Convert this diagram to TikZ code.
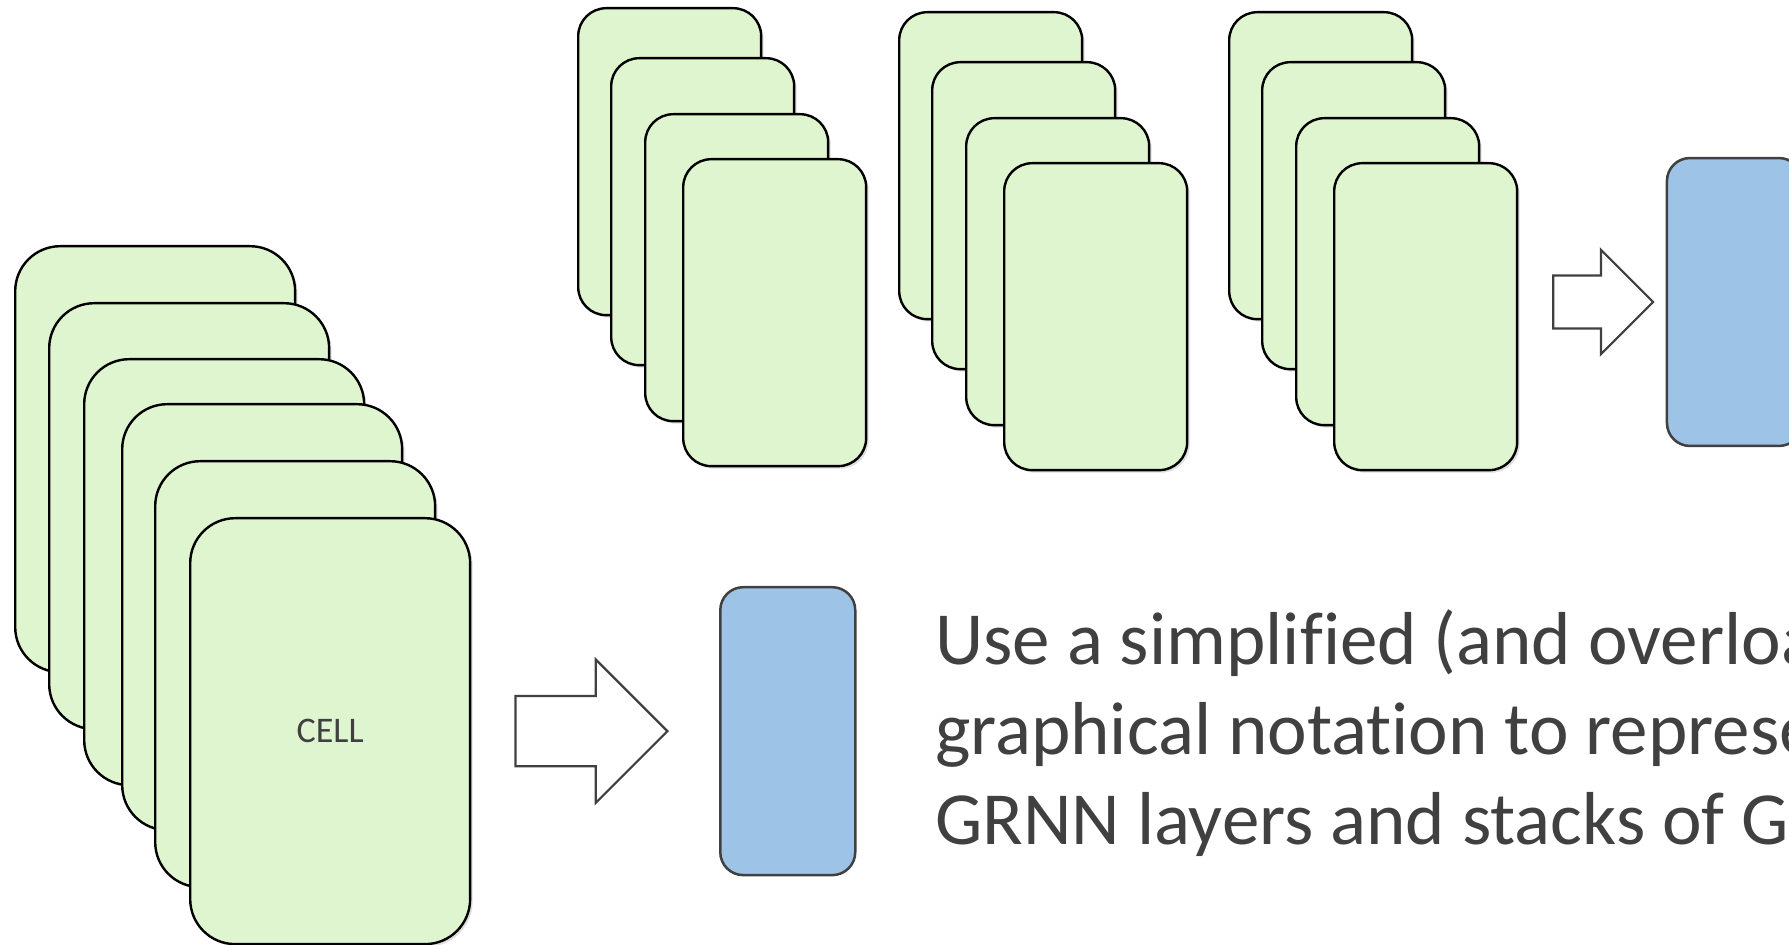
\documentclass[tikz,border=0pt]{standalone}
\usepackage{fontspec}
\setmainfont{Carlito}[Ligatures=NoCommon]
\usetikzlibrary{positioning,shapes.arrows,shadows}
\definecolor{cellGreen}{RGB}{223,245,208}
\definecolor{grnnBlue}{RGB}{157,195,230}
\definecolor{lineGray}{RGB}{64,64,64}

\begin{document}
\begin{tikzpicture}[
  x=0.02cm, y=-0.02cm,
  cellcard/.style={draw=black, fill=cellGreen, line width=0.048cm, rounded corners=0.9cm,
    minimum width=5.6cm, minimum height=8.52cm, anchor=north west, inner sep=0pt,
    drop shadow={shadow xshift=0.05cm, shadow yshift=-0.05cm, opacity=0.25}},
  layercard/.style={cellcard, rounded corners=0.56cm, minimum width=3.66cm, minimum height=6.14cm},
  grnn/.style={draw=lineGray, fill=grnnBlue, line width=0.05cm, rounded corners=0.46cm,
    minimum width=2.7cm, minimum height=5.76cm, inner sep=0pt},
  fatarrow/.style={single arrow, draw=lineGray, fill=white, line width=0.045cm, inner xsep=0pt,
    anchor=tail},
  celltext/.style={font=\fontsize{20.5}{24}\selectfont, text=lineGray},
  note/.style={font=\fontsize{42.7}{51}\selectfont, text=lineGray, align=left, anchor=base west}
]
\useasboundingbox (0,0) rectangle (1789,945);
\clip (0,0) rectangle (1789,945);

% Stack of cells
\foreach \x/\y [count=\i] in {14/245, 48/302, 83/358, 121/403, 154/460, 189/517}
  \node[cellcard] (cell\i) at (\x,\y) {};
\node[celltext] (cellname) at (cell6.center) {CELL};

\node[fatarrow, minimum height=3.04cm, inner ysep=0.68cm, single arrow head extend=0.73cm,
  right=0.86cm of cell6] (lowArrow) {};
\node[grnn, right=1.0cm of lowArrow] (layerOut) {};

% Stack of layers
\foreach \sx/\sy [count=\s] in {577/7, 898/11, 1228/11}
  \foreach \dx/\dy [count=\c] in {0/0, 33/50, 67/106, 105/151}
    \node[layercard] (layer\s-\c) at (\sx+\dx,\sy+\dy) {};

\node[fatarrow, minimum height=2.0cm, inner ysep=0.51cm, single arrow head extend=0.51cm]
  (topArrow) at (1552,302) {};
\node[grnn, right=0.22cm of topArrow] (stackOut) {};

% last line sits on the anchor
\node[note] (caption) at (929,844) {Use a simplified (and overloaded)\\graphical notation to represent\\GRNN layers and stacks of GRNN};

\end{tikzpicture}
\end{document}
